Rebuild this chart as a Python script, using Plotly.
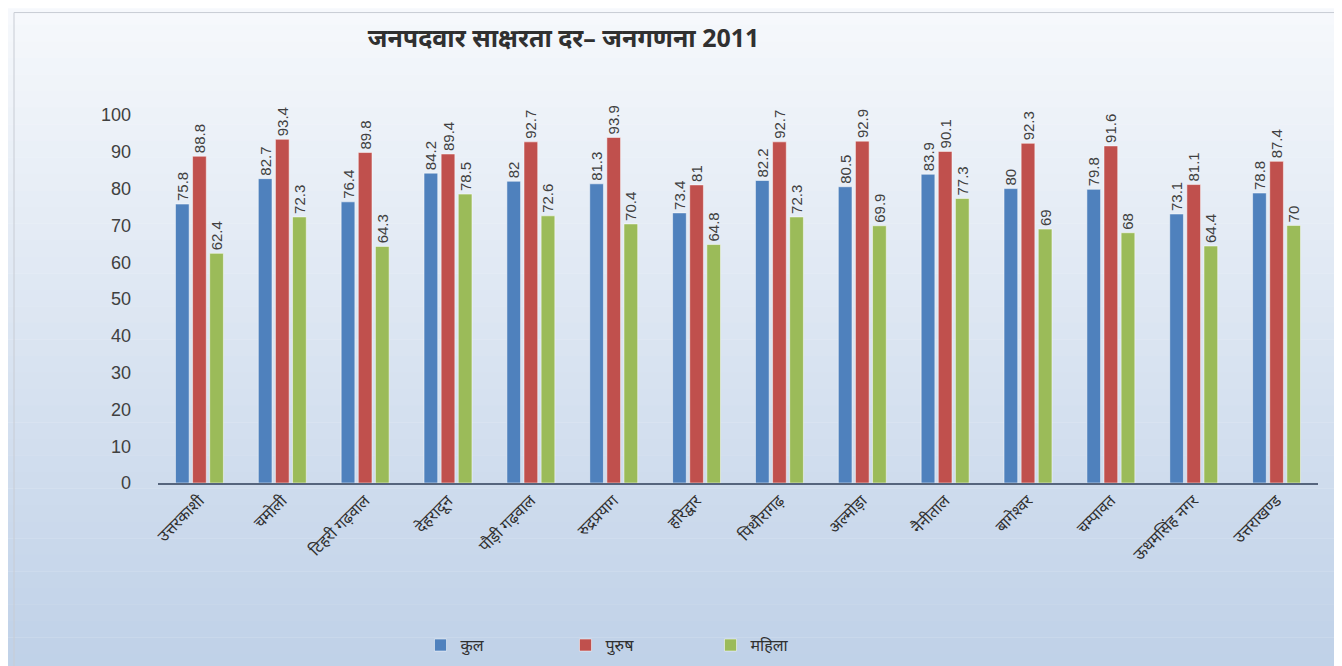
import plotly.graph_objects as go

# districts of Uttarakhand (census 2011)
districts = ["उत्तरकाशी", "चमोली", "टिहरी गढ़वाल", "देहरादून", "पौड़ी गढ़वाल",
             "रुद्रप्रयाग", "हरिद्वार", "पिथौरागढ़", "अल्मोड़ा", "नैनीताल",
             "बागेश्वर", "चम्पावत", "ऊधमसिंह नगर", "उत्तराखण्ड"]
total = [75.8, 82.7, 76.4, 84.2, 82, 81.3, 73.4, 82.2, 80.5, 83.9, 80, 79.8, 73.1, 78.8]
male = [88.8, 93.4, 89.8, 89.4, 92.7, 93.9, 81, 92.7, 92.9, 90.1, 92.3, 91.6, 81.1, 87.4]
female = [62.4, 72.3, 64.3, 78.5, 72.6, 70.4, 64.8, 72.3, 69.9, 77.3, 69, 68, 64.4, 70]
series_names = ["कुल", "पुरुष", "महिला"]
y_ticks = [0, 10, 20, 30, 40, 50, 60, 70, 80, 90, 100]

W, H = 1342, 666
L, R, T, B = 150, 32, 107, 189
FONT = "Noto Sans, Liberation Sans, sans-serif"

fig = go.Figure()
colors = ["#4f81bd", "#c0504d", "#9bbb59"]
for name, vals, col in zip(series_names, [total, male, female], colors):
    fig.add_trace(go.Bar(
        x=districts, y=vals, name=name,
        marker=dict(color=col, line=dict(width=1, color="rgba(255,255,255,0.5)")),
        text=vals, texttemplate="%{y}", textposition="outside", textangle=-90,
        textfont=dict(size=15, color="#404040", family="Liberation Sans Narrow, Liberation Sans"),
        cliponaxis=False,
    ))

# background gradient (white-ish top to light blue bottom) in paper coords
pw, ph = W - L - R, H - T - B
def px_x(p):
    return (p - L) / pw
def px_y(p):
    return (H - B - p) / ph

n = 40
top_c = (246, 248, 252)
bot_c = (192, 210, 232)
shapes = []
for i in range(n):
    f = i / (n - 1)
    c = tuple(int(top_c[k] + (bot_c[k] - top_c[k]) * f) for k in range(3))
    y0 = H * i / n
    y1 = H * (i + 1) / n
    shapes.append(dict(type="rect", xref="paper", yref="paper",
                       x0=px_x(0), x1=px_x(W), y0=px_y(y1), y1=px_y(y0) + 0.001,
                       fillcolor="rgb(%d,%d,%d)" % c, line_width=0, layer="below"))
shapes.append(dict(type="rect", xref="paper", yref="paper",
                   x0=px_x(6), x1=px_x(W - 4), y0=px_y(H - 3), y1=px_y(4),
                   line=dict(color="#c8ccd4", width=1), fillcolor="rgba(0,0,0,0)", layer="below"))

fig.update_layout(
    width=W, height=H,
    margin=dict(l=L, r=R, t=T, b=B),
    paper_bgcolor="rgba(0,0,0,0)", plot_bgcolor="rgba(0,0,0,0)",
    barmode="group", bargap=0.38, bargroupgap=0.2,
    uniformtext=dict(minsize=15, mode="show"),
    title=dict(text="<b>जनपदवार साक्षरता दर– जनगणना 2011</b>", x=0.414, xanchor="center",
               y=0.955, yanchor="middle",
               font=dict(size=25, color="#303030", family=FONT)),
    xaxis=dict(tickangle=-45, showline=True, linecolor="#56657d", linewidth=2,
               tickfont=dict(size=16, color="#303030", family=FONT), ticks=""),
    yaxis=dict(range=[0, 100], tickvals=y_ticks, showgrid=False, zeroline=False,
               showline=False, ticks="", ticklabelstandoff=26,
               tickfont=dict(size=18, color="#404040", family="Liberation Sans")),
    legend=dict(orientation="h", x=px_x(630), xanchor="center", y=px_y(640), yanchor="middle",
                font=dict(size=16, color="#303030", family=FONT),
                entrywidth=100, entrywidthmode="pixels", itemwidth=30,
                bgcolor="rgba(0,0,0,0)"),
    shapes=shapes,
)

fig.write_html("out.html")
